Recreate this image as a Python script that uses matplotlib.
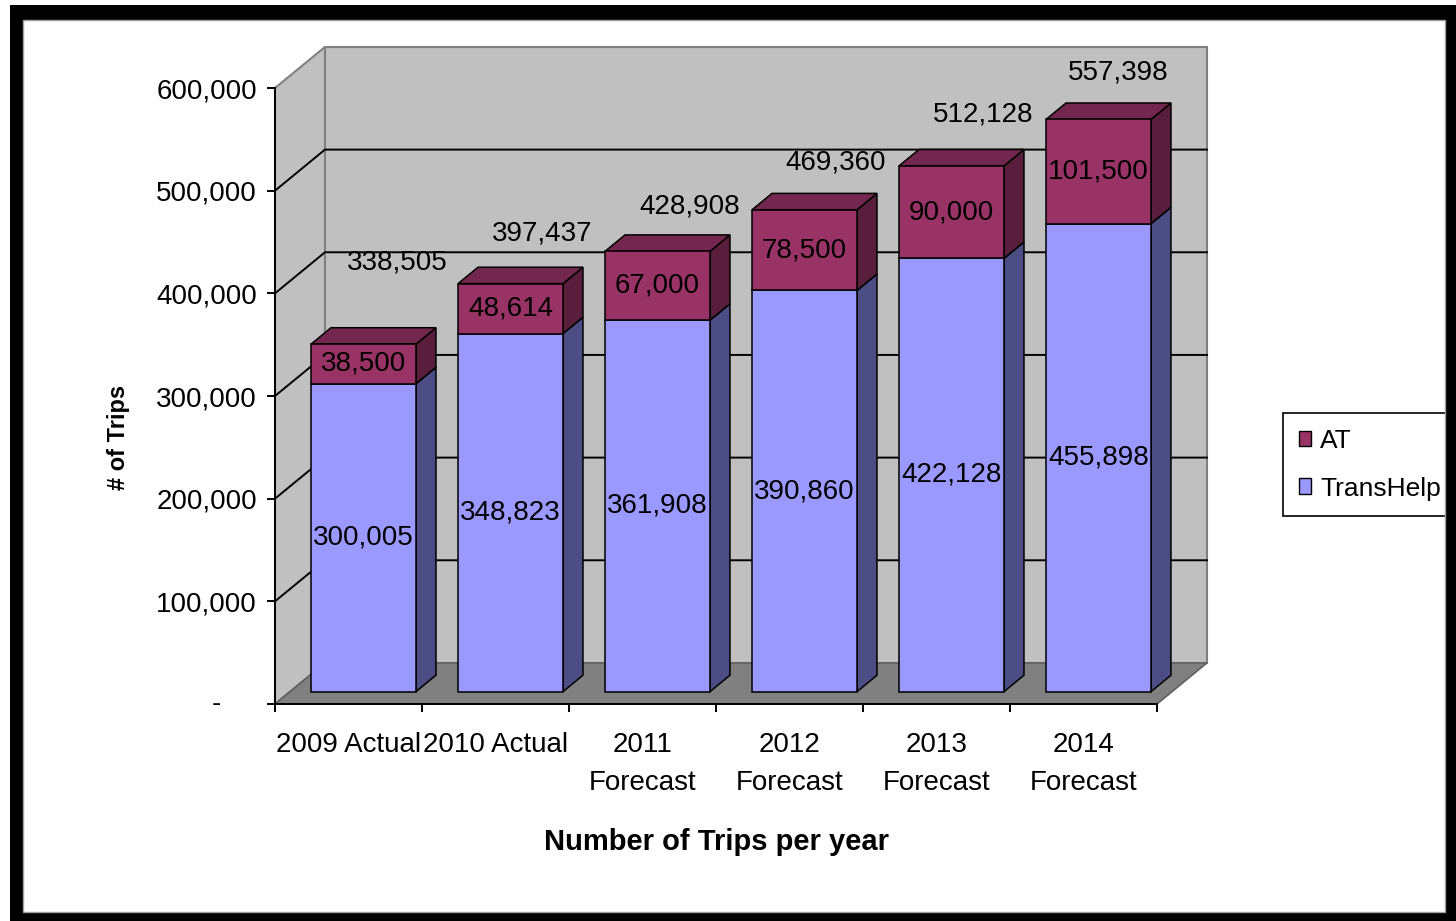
import matplotlib
matplotlib.use("Agg")
import matplotlib.pyplot as plt
from matplotlib.patches import Polygon, Rectangle, Patch
from matplotlib.transforms import blended_transform_factory

plt.rcParams['font.family'] = ['Liberation Sans', 'DejaVu Sans']

# datos del grafico
categorias = ["2009 Actual", "2010 Actual", "2011\nForecast", "2012\nForecast",
              "2013\nForecast", "2014\nForecast"]
transhelp = [300005, 348823, 361908, 390860, 422128, 455898]
at = [38500, 48614, 67000, 78500, 90000, 101500]
totales = [t + a for t, a in zip(transhelp, at)]
y_ticks = [0, 100000, 200000, 300000, 400000, 500000, 600000]
y_labels = ["", "100,000", "200,000", "300,000", "400,000", "500,000", "600,000"]

# colores estilo excel 3D
TH_FRONT, TH_SIDE, TH_TOP = "#9999ff", "#4d4d85", "#7a7acc"
AT_FRONT, AT_SIDE, AT_TOP = "#993366", "#5a1e3d", "#74274e"
WALL, FLOOR = "#c0c0c0", "#808080"

W, H = 1456, 921
DX, DY = 0.34, 40000        # profundidad de la caja 3D (en unidades de datos)
ANCHO = 0.714               # ancho de barra
F0, F1 = 0.3, 0.4           # posicion y grosor de las barras en profundidad
YMAX = 600000
FS = 20
# pequeños ajustes de posicion de las etiquetas de total (x, y)
ajuste_tot = [(0.01, 34000), (0.0, 3000), (0.0, -2000), (-0.005, 0), (-0.005, 4500), (-0.085, 0)]

fig = plt.figure(figsize=(W / 100, H / 100), dpi=100)
fig.patch.set_facecolor("white")
ax = fig.add_axes([275 / W, 1 - 704 / H, 882 / W, 616 / H])
ax.set_xlim(0, len(categorias))
ax.set_ylim(0, YMAX)
ax.patch.set_visible(False)

n = len(categorias)
# paredes y piso
ax.add_patch(Polygon([(0, 0), (DX, DY), (DX, YMAX + DY), (0, YMAX)], fc=WALL, ec="#808080",
                     lw=1.5, clip_on=False, zorder=0.5))
ax.add_patch(Rectangle((DX, DY), n, YMAX, fc=WALL, ec="#808080", lw=1.5, clip_on=False, zorder=0.5))
ax.add_patch(Polygon([(0, 0), (n, 0), (n + DX, DY), (DX, DY)], fc=FLOOR, ec="#606060",
                     lw=1.2, clip_on=False, zorder=0.9))
for v in y_ticks[1:-1]:
    ax.plot([0, DX, n + DX], [v, v + DY, v + DY], color="black", lw=1.4, clip_on=False, zorder=0.7)


def caja(x0, y0, y1, frente, lado, arriba):
    bx, by = F1 * DX, F1 * DY
    x1 = x0 + ANCHO
    ax.add_patch(Polygon([(x1, y0), (x1 + bx, y0 + by), (x1 + bx, y1 + by), (x1, y1)],
                         fc=lado, ec="black", lw=1.1, clip_on=False, zorder=2))
    ax.add_patch(Polygon([(x0, y1), (x0 + bx, y1 + by), (x1 + bx, y1 + by), (x1, y1)],
                         fc=arriba, ec="black", lw=1.1, clip_on=False, zorder=2))
    ax.add_patch(Rectangle((x0, y0), ANCHO, y1 - y0, fc=frente, ec="black", lw=1.1,
                           clip_on=False, zorder=2.1))


base = F0 * DY
for i in range(n):
    x0 = i + (1 - ANCHO) / 2 + F0 * DX
    xc = x0 + ANCHO / 2
    caja(x0, base, base + transhelp[i], TH_FRONT, TH_SIDE, TH_TOP)
    caja(x0, base + transhelp[i], base + totales[i], AT_FRONT, AT_SIDE, AT_TOP)
    ax.text(xc, base + transhelp[i] / 2, f"{transhelp[i]:,}", ha="center", va="center",
            fontsize=FS, zorder=5)
    ax.text(xc, base + transhelp[i] + at[i] / 2, f"{at[i]:,}", ha="center", va="center",
            fontsize=FS, zorder=5)
    ax.text(i + 0.5 + 0.32 + ajuste_tot[i][0], totales[i] + 58000 + ajuste_tot[i][1],
            f"{totales[i]:,}", ha="center", va="center", fontsize=FS, zorder=5, clip_on=False)

# ejes
for s in ["top", "right"]:
    ax.spines[s].set_visible(False)
for s in ["left", "bottom"]:
    ax.spines[s].set_linewidth(1.4)
    ax.spines[s].set_zorder(3)
ax.set_yticks(y_ticks)
ax.set_yticklabels(y_labels)
ax.tick_params(axis="y", direction="out", length=6, width=1.4, pad=7, labelsize=FS)
ax.text(-54 / 882, 0, "-", transform=blended_transform_factory(ax.transAxes, ax.transData),
        ha="right", va="center", fontsize=FS)

ax.set_xticks(range(n + 1))
ax.set_xticklabels([])
ax.set_xticks([i + 0.5 for i in range(n)], categorias, minor=True)
ax.tick_params(axis="x", which="major", direction="out", length=6, width=1.4)
ax.tick_params(axis="x", which="minor", length=0, pad=20, labelsize=FS)

ax.set_ylabel("# of Trips", fontsize=17, fontweight="bold")
ax.yaxis.set_label_coords((130 - 275) / 882, (704 - 437) / 616)
ax.set_xlabel("Number of Trips per year", fontsize=21, fontweight="bold")
ax.xaxis.set_label_coords(0.5, -(828 - 704) / 616)

# leyenda
handles = [Patch(fc=AT_FRONT, ec="black", lw=1), Patch(fc=TH_FRONT, ec="black", lw=1)]
leg = fig.legend(handles, ["AT", "TransHelp"], loc="upper left",
                 bbox_to_anchor=(1283 / W, 1 - 413 / H), frameon=True, fancybox=False,
                 edgecolor="black", fontsize=19, handlelength=0.45, handleheight=0.55,
                 handletextpad=0.35, labelspacing=0.9, borderpad=0.6, borderaxespad=0)
leg.get_frame().set_linewidth(1.2)
leg.get_frame().set_alpha(1)

# marco negro
for (x, y, w, h) in [(10, 5, W - 10, 15), (10, 5, 13, H - 5), (1445, 5, W - 1445, H - 5),
                     (10, 912, W - 10, H - 912)]:
    fig.add_artist(Rectangle((x / W, 1 - (y + h) / H), w / W, h / H, transform=fig.transFigure,
                             fc="black", ec="none", zorder=20))
fig.add_artist(Rectangle((23 / W, 1 - 912 / H), (1445 - 23) / W, (912 - 20) / H,
                         transform=fig.transFigure, fc="none", ec="#a0a0a0", lw=1, zorder=21))

# interlineado de las etiquetas de categoria (despues de crear los ticks)
fig.canvas.draw()
for lbl in ax.get_xticklabels(minor=True):
    lbl.set_linespacing(1.62)

fig.savefig("out.png", dpi=100)
